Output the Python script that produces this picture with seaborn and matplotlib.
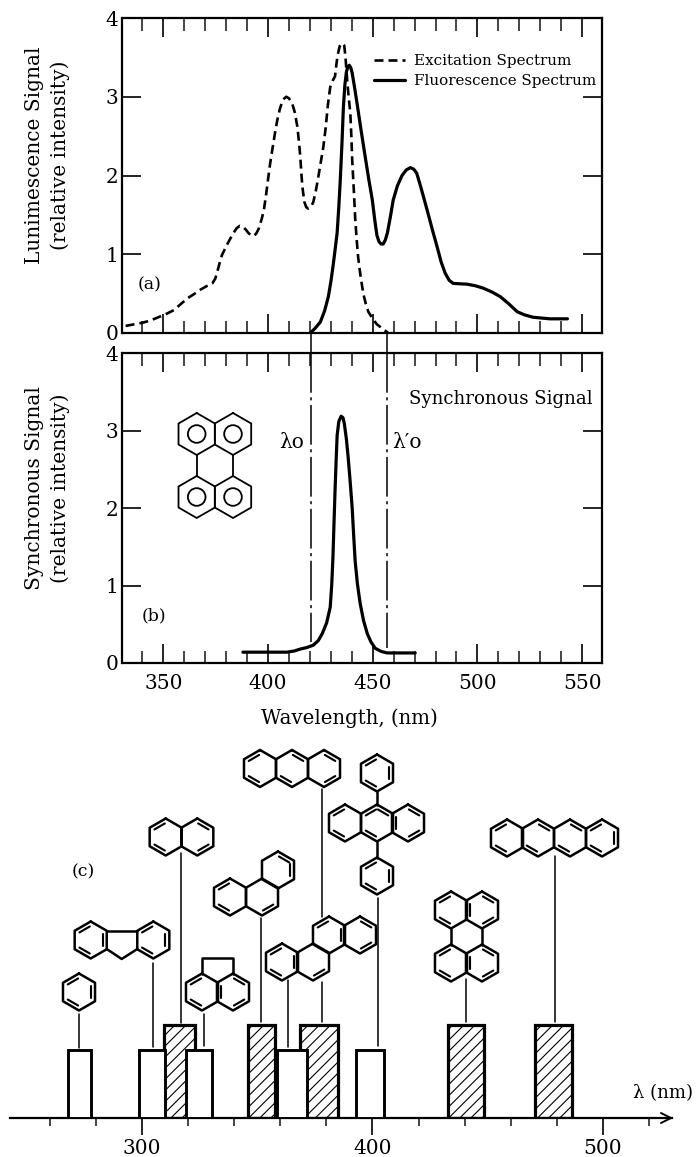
import numpy as np
import matplotlib
matplotlib.use("Agg")
import matplotlib.pyplot as plt
from matplotlib.ticker import MultipleLocator
import seaborn as sns

# Excitation spectrum, panel (a)
exc_nm = [332, 336, 340, 344, 348.5, 352, 355, 358, 361.5, 365, 367.7, 371, 373.4, 374.8, 375.8, 377, 378, 380,
          382, 383.5, 385, 386.5, 388, 389.5, 390.6, 392, 393, 394.3, 395.5, 397, 398, 399, 400, 401, 402, 403.2,
          404.4, 405.6, 406.8, 407.8, 408.7, 410, 411.6, 412.8, 414, 414.8, 415.4, 416, 416.4, 417.3, 418.2,
          419.2, 420.4, 421.6, 422.8, 424, 425.2, 426.4, 427.6, 428.6, 429.7, 430.8, 432, 432.6, 433.2, 434.2,
          435.4, 436.4, 437, 437.8, 438.5, 439.3, 439.8, 440.2, 441, 441.6, 442.3, 443, 444.2, 445.5, 446.7,
          447.9, 450, 452, 454.5, 457.4]
exc_val = [0.09, 0.11, 0.13, 0.16, 0.21, 0.25, 0.29, 0.36, 0.44, 0.5, 0.55, 0.6, 0.63, 0.69, 0.78, 0.9, 0.99, 1.1,
           1.2, 1.27, 1.33, 1.36, 1.35, 1.31, 1.27, 1.24, 1.23, 1.26, 1.32, 1.45, 1.56, 1.74, 1.95, 2.15, 2.32, 2.52,
           2.7, 2.84, 2.94, 2.98, 3.0, 2.98, 2.91, 2.8, 2.62, 2.42, 2.24, 2.0, 1.86, 1.67, 1.6,
           1.58, 1.6, 1.66, 1.8, 1.98, 2.17, 2.36, 2.62, 2.9, 3.12, 3.2, 3.26, 3.4, 3.52, 3.64,
           3.68, 3.65, 3.5, 3.21, 3.0, 2.79, 2.5, 2.2, 1.8, 1.47, 1.2, 0.97, 0.72, 0.5, 0.37,
           0.27, 0.18, 0.11, 0.06, 0.0]

# Fluorescence spectrum, panel (a)
flu_nm = [420.2, 422.5, 425, 427, 428.8, 430, 431, 432, 433, 433.8, 434.5, 435.3, 436, 436.7, 437.4, 438.1, 438.8,
          439.5, 440.2, 441.5, 443, 444.7, 446.4, 448, 449.8, 451, 452, 453, 454, 455, 456, 457, 458.4, 459.8,
          461.8, 464, 466, 468, 469.6, 471, 473, 476, 478.4, 480.8, 482.7, 484.6, 486.5, 488.4, 491.5, 495, 499,
          502.7, 507, 511, 515, 519, 522.5, 526.6, 530.5, 534.7, 543]
flu_val = [0, 0.06, 0.14, 0.28, 0.46, 0.65, 0.84, 1.05, 1.27, 1.6, 1.94, 2.4, 2.87, 3.15, 3.31, 3.38, 3.4,
           3.37, 3.3, 3.09, 2.83, 2.53, 2.24, 1.97, 1.69, 1.43, 1.24, 1.16, 1.13, 1.13, 1.18, 1.27, 1.47, 1.69,
           1.87, 2.0, 2.07, 2.1, 2.08, 2.03, 1.85, 1.56, 1.32, 1.09, 0.9, 0.76, 0.67, 0.63, 0.625, 0.62, 0.6,
           0.57, 0.52, 0.46, 0.37, 0.27, 0.23, 0.2, 0.19, 0.18, 0.18]

# Synchronous signal, panel (b)
syn_nm = [388, 399.7, 409, 412.5, 415.4, 418.5, 421.6, 424, 425.9, 428, 429.7, 430.4, 431, 431.5, 432, 432.5, 433,
          433.8, 434.9, 435.8, 436.4, 437.4, 438.3, 439.3, 440.2, 440.9, 441.6, 442.7, 444, 445.6, 447.4, 449.2,
          451.2, 454, 456.9, 470.3]
syn_val = [0.14, 0.14, 0.14, 0.155, 0.18, 0.2, 0.23, 0.29, 0.38, 0.52, 0.72, 1.0, 1.36, 1.8, 2.22, 2.6, 2.94,
           3.12, 3.19, 3.17, 3.1, 2.9, 2.65, 2.32, 2.0, 1.65, 1.32, 1.02, 0.77, 0.55, 0.38, 0.27,
           0.19, 0.15, 0.13, 0.13]

lambda_0 = 420.5
lambda_0p = 456.8

# Panel (c) bars: left edge, right edge in nm
open_left = [268, 298.7, 319, 358.6, 392.8]
open_right = [278, 310, 330.4, 371.6, 405]
hatch_left = [309.5, 346, 368.5, 432.8, 470.5]
hatch_right = [323, 357.7, 385, 448.4, 486.5]
open_height = 1.0
hatch_height = 1.37

WIDTH, HEIGHT = 696, 1157

sns.set_theme(style="ticks")
plt.rcParams['font.family'] = ['DejaVu Serif']
plt.rcParams['axes.linewidth'] = 1.6
plt.rcParams['text.color'] = 'black'
plt.rcParams['hatch.linewidth'] = 0.8


def box(left, top, right, bottom):
    # axes rectangle from picture pixels
    return [left / WIDTH, 1 - bottom / HEIGHT, (right - left) / WIDTH, (bottom - top) / HEIGHT]


def style_spectrum_axes(ax):
    ax.set_xlim(330.5, 559.5)
    ax.set_ylim(0, 4)
    ax.xaxis.set_major_locator(MultipleLocator(50))
    ax.xaxis.set_minor_locator(MultipleLocator(10))
    ax.set_yticks([0, 1, 2, 3, 4])
    ax.tick_params(axis='x', which='major', direction='in', top=True, bottom=True, length=14, width=1.2,
                   labelsize=14.5, pad=8, colors='black')
    ax.tick_params(axis='x', which='minor', direction='in', top=True, bottom=True, length=9, width=1.2)
    ax.tick_params(axis='y', which='major', direction='in', left=True, right=True, length=14, width=1.2,
                   labelsize=14.5, pad=3, colors='black')
    for side in ax.spines:
        ax.spines[side].set_visible(True)
        ax.spines[side].set_color('black')


fig = plt.figure(figsize=(WIDTH / 100, HEIGHT / 100), dpi=100, facecolor='white')

# Panel (a)
ax_a = fig.add_axes(box(122.5, 18, 602, 333))
sns.lineplot(x=exc_nm, y=exc_val, ax=ax_a, color='black', lw=1.9, linestyle=(0, (3.4, 1.9)), sort=False,
             estimator=None, label="Excitation Spectrum")
sns.lineplot(x=flu_nm, y=flu_val, ax=ax_a, color='black', lw=2.3, sort=False, estimator=None,
             label="Fluorescence Spectrum")
style_spectrum_axes(ax_a)
ax_a.tick_params(axis='x', which='both', labelbottom=False)
ax_a.set_ylabel("Lunimescence Signal\n(relative intensity)", fontsize=14.5, linespacing=1.4, color='black')
ax_a.yaxis.set_label_coords(-0.11, 0.565)
ax_a.legend(loc='upper right', bbox_to_anchor=(1.0, 0.905), frameon=False, fontsize=10.9, handlelength=2.0,
            labelspacing=0.4, handletextpad=0.6, borderaxespad=0)

# Panel (b)
ax_b = fig.add_axes(box(122.5, 353.5, 602, 663))
sns.lineplot(x=syn_nm, y=syn_val, ax=ax_b, color='black', lw=2.3, sort=False, estimator=None)
style_spectrum_axes(ax_b)
ax_b.set_xlabel("Wavelength, (nm)", fontsize=14.2, color='black')
ax_b.xaxis.set_label_coords(0.474, -0.145)
ax_b.set_ylabel("Synchronous Signal\n(relative intensity)", fontsize=14.5, linespacing=1.4, color='black')
ax_b.yaxis.set_label_coords(-0.11, 0.565)

# wavelength markers, dash-dot inside (b) and solid up to the (a) baseline
dash_dot = (0, (26, 3, 2, 3))
ax_b.plot([lambda_0, lambda_0], [4, 0.27], color='black', lw=1.1, linestyle=dash_dot)
ax_b.plot([lambda_0p, lambda_0p], [4, 0.2], color='black', lw=1.1, linestyle=dash_dot)
ax_b.plot([lambda_0, lambda_0], [4, 4.27], color='black', lw=1.1, clip_on=False)
ax_b.plot([lambda_0p, lambda_0p], [4, 4.27], color='black', lw=1.1, clip_on=False)

# Panel (c)
ax_c = fig.add_axes(box(10, 740, 672, 1118))
ax_c.set_xlim(242.7, 530)
ax_c.set_ylim(0, 378 / 67.7)
ax_c.bar(hatch_left, hatch_height, width=np.array(hatch_right) - np.array(hatch_left), align='edge',
         facecolor='white', edgecolor='black', lw=2.3, hatch='///', zorder=2)
ax_c.bar(open_left, open_height, width=np.array(open_right) - np.array(open_left), align='edge',
         facecolor='white', edgecolor='black', lw=2.1, zorder=3)
sns.despine(ax=ax_c, left=True, top=True, right=True)
ax_c.spines['bottom'].set_color('black')
ax_c.set_yticks([])
ax_c.xaxis.set_major_locator(MultipleLocator(100))
ax_c.xaxis.set_minor_locator(MultipleLocator(20))
ax_c.tick_params(axis='x', which='major', direction='out', length=12, width=1.2, labelsize=14.5, pad=3,
                 colors='black')
ax_c.tick_params(axis='x', which='minor', direction='out', length=6, width=1.2)
ax_c.annotate("", xy=(530.5, 0), xytext=(518, 0), annotation_clip=False,
              arrowprops=dict(arrowstyle='->', color='black', lw=1.4, mutation_scale=18, shrinkA=0, shrinkB=0))
ax_c.patch.set_visible(False)

# Overlay in picture pixels for the hand drawn molecule sketches and the labels
ov = fig.add_axes([0, 0, 1, 1], zorder=10)
ov.set_xlim(0, WIDTH)
ov.set_ylim(HEIGHT, 0)
ov.axis('off')
ov.patch.set_visible(False)


def hex_points(cx, cy, r):
    angles = np.radians(np.arange(6) * 60)
    return cx + r * np.sin(angles), cy - r * np.cos(angles)


def ring(cx, cy, r=18.5, doubles=(), circle=False, lw=1.8):
    xs, ys = hex_points(cx, cy, r)
    ov.plot(np.append(xs, xs[0]), np.append(ys, ys[0]), color='black', lw=lw, solid_joinstyle='round')
    for e in doubles:
        # short inner line next to edge e
        a, b = e, (e + 1) % 6
        ax1, ay1 = cx + 0.76 * (xs[a] - cx), cy + 0.76 * (ys[a] - cy)
        bx1, by1 = cx + 0.76 * (xs[b] - cx), cy + 0.76 * (ys[b] - cy)
        mx, my = (ax1 + bx1) / 2, (ay1 + by1) / 2
        ov.plot([mx + 0.85 * (ax1 - mx), mx + 0.85 * (bx1 - mx)], [my + 0.85 * (ay1 - my), my + 0.85 * (by1 - my)],
                color='black', lw=lw * 0.85)
    if circle:
        ov.add_patch(plt.Circle((cx, cy), r * 0.42, fill=False, ec='black', lw=lw))


def bond(*pts, lw=1.8):
    ov.plot([p[0] for p in pts], [p[1] for p in pts], color='black', lw=lw)


def leader(x, y0, y1):
    ov.plot([x, x], [y0, y1], color='black', lw=1.1)


# perylene inset of panel (b)
for cx, cy in [(196.7, 434), (233, 434), (196.7, 497), (233, 497)]:
    ring(cx, cy, r=21, circle=True, lw=1.3)
bond((196.7, 455), (196.7, 476), lw=1.3)
bond((233, 455), (233, 476), lw=1.3)

# benzene
ring(79, 992, doubles=(1, 3, 5))
leader(79, 1014, 1048)

# fluorene
ring(90.7, 940, doubles=(1, 3, 5))
ring(153.3, 940, doubles=(1, 3, 5))
bond((106.7, 931), (137.3, 931))
bond((106.7, 949), (121.7, 959), (137.3, 949))
leader(153, 963, 1047)

# naphthalene
ring(165.7, 837, doubles=(3, 5))
ring(197.3, 837, doubles=(0, 2))
leader(181, 853, 1023)

# acenaphthene
ring(202, 992, doubles=(3, 5))
ring(233, 992, doubles=(0, 2, 4))
bond((202, 973.5), (202, 958), (233, 958), (233, 973.5))
leader(203.5, 1014, 1046)

# phenanthrene
ring(230, 897, doubles=(3, 5))
ring(262, 897, doubles=(2,))
ring(278, 870, doubles=(0, 1))
leader(261, 918, 1022)

# anthracene
ring(260, 768.5, doubles=(3, 5))
ring(292, 768.5, doubles=(0, 3))
ring(324, 768.5, doubles=(0, 2))
leader(321.5, 789, 917)

# four ring compound
ring(282, 962, doubles=(1, 5, 3))
ring(313, 962, doubles=(2,))
ring(329, 935, doubles=(1, 5))
ring(360, 935, doubles=(0, 2))
leader(288, 980, 1047)
leader(321.5, 982, 1022)

# diphenylanthracene
ring(377, 773, doubles=(1, 3, 5))
ring(345, 823, doubles=(3, 5))
ring(377, 823, doubles=(0, 3, 5))
ring(408, 823, doubles=(0, 2, 4))
ring(377, 876, doubles=(1, 3, 5))
bond((377, 791.5), (377, 804.5))
bond((377, 841.5), (377, 857.5))
leader(377.7, 898, 1046)

# perylene
ring(451, 910, doubles=(5, 3))
ring(482, 910, doubles=(4, 0, 2))
ring(451, 963, doubles=(5, 3))
ring(482, 963, doubles=(4, 0, 2))
bond((451, 928.5), (451, 944.5))
bond((482, 928.5), (482, 944.5))
leader(466, 979, 1022)

# tetracene
ring(507, 838, doubles=(3, 5))
ring(538, 838, doubles=(0, 3))
ring(570, 838, doubles=(0, 3))
ring(602, 838, doubles=(1, 3, 5))
leader(555, 856, 1022)

# labels
ov.text(150, 285, "(a)", fontsize=12.5, ha='center', va='center')
ov.text(154, 616, "(b)", fontsize=12.5, ha='center', va='center')
ov.text(83, 872, "(c)", fontsize=12.5, ha='center', va='center')
ov.text(501, 399, "Synchronous Signal", fontsize=13.1, ha='center', va='center')
ov.text(292, 442, "λo", fontsize=14.5, ha='center', va='center')
ov.text(407, 442, "λ′o", fontsize=14.5, ha='center', va='center')
ov.text(663, 1093, "λ (nm)", fontsize=13, ha='center', va='center')

fig.savefig("out.png", dpi=100, facecolor='white')
